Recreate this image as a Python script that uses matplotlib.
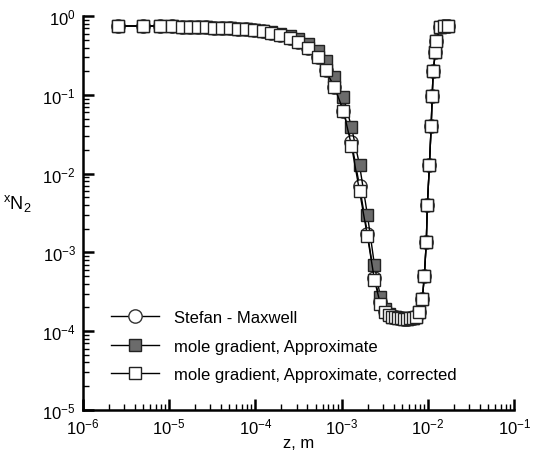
import numpy as np
import matplotlib.pyplot as plt
from matplotlib.ticker import LogLocator, NullFormatter

plt.rcParams['font.family'] = ['Liberation Sans', 'DejaVu Sans']
plt.rcParams['font.size'] = 12

# 网格坐标 z, m
z = [2.54e-6, 4.94e-6, 7.78e-6, 1.07e-5, 1.40e-5, 1.73e-5, 2.14e-5, 2.66e-5,
     3.28e-5, 4.06e-5, 5.03e-5, 6.22e-5, 7.71e-5, 9.53e-5, 1.21e-4, 1.50e-4,
     1.91e-4, 2.49e-4, 3.16e-4, 4.02e-4, 5.25e-4, 6.50e-4, 8.26e-4, 1.05e-3,
     1.30e-3, 1.61e-3, 1.99e-3, 2.40e-3, 2.81e-3, 3.21e-3, 3.57e-3, 3.87e-3,
     4.20e-3, 4.54e-3, 4.92e-3, 5.33e-3, 5.78e-3, 6.25e-3, 6.78e-3, 7.35e-3,
     7.94e-3, 8.61e-3, 9.08e-3, 9.57e-3, 9.84e-3, 1.04e-2, 1.09e-2, 1.12e-2,
     1.15e-2, 1.22e-2, 1.25e-2, 1.39e-2, 1.55e-2, 1.72e-2]

# 右侧上升段 + 底部 (三条曲线基本重合)
bottom = [1.52e-4, 1.49e-4, 1.47e-4, 1.45e-4, 1.44e-4, 1.44e-4, 1.45e-4, 1.47e-4, 1.50e-4]
rise = [1.75e-4, 2.56e-4, 5.02e-4, 1.36e-3, 4.0e-3, 1.29e-2, 4.02e-2, 9.66e-2,
        0.200, 0.349, 0.482, 0.725, 0.75, 0.76]

# Stefan - Maxwell
x_sm = [0.75, 0.75, 0.75, 0.747, 0.725, 0.725, 0.725, 0.725, 0.704, 0.704,
        0.704, 0.684, 0.684, 0.664, 0.645, 0.609, 0.574, 0.526, 0.468, 0.393,
        0.302, 0.206, 0.126, 0.0623, 0.025, 7.0e-3, 1.72e-3, 4.7e-4, 2.35e-4,
        1.78e-4, 1.62e-4] + bottom + rise
# mole gradient, Approximate
x_ap = [0.75, 0.75, 0.75, 0.747, 0.725, 0.725, 0.725, 0.725, 0.704, 0.704,
        0.704, 0.684, 0.684, 0.664, 0.645, 0.627, 0.591, 0.557, 0.511, 0.441,
        0.360, 0.268, 0.168, 0.0938, 0.039, 0.0129, 2.98e-3, 6.92e-4, 2.72e-4,
        1.91e-4, 1.65e-4] + bottom + rise
# mole gradient, Approximate, corrected
x_co = [0.75, 0.75, 0.75, 0.747, 0.725, 0.725, 0.725, 0.725, 0.704, 0.704,
        0.704, 0.684, 0.684, 0.664, 0.645, 0.609, 0.574, 0.526, 0.468, 0.393,
        0.302, 0.206, 0.126, 0.0623, 0.0227, 6.0e-3, 1.61e-3, 4.46e-4, 2.21e-4,
        1.75e-4, 1.61e-4] + bottom + rise

fig = plt.figure(figsize=(5.34, 4.52), dpi=100)
ax = fig.add_axes([0.155, 0.091, 0.808, 0.871])

ax.plot(z, x_sm, '-o', color='black', lw=1, ms=9.6, mfc='white', mec='#333333',
        mew=1, label='Stefan - Maxwell', zorder=2)
ax.plot(z, x_ap, '-s', color='black', lw=1, ms=8.6, mfc='#6b6b6b', mec='#222222',
        mew=1, label='mole gradient, Approximate', zorder=3)
ax.plot(z, x_co, '-s', color='black', lw=1, ms=8.6, mfc='white', mec='#222222',
        mew=1, label='mole gradient, Approximate, corrected', zorder=4)

ax.set_xscale('log')
ax.set_yscale('log')
ax.set_xlim(1e-6, 1e-1)
ax.set_ylim(1e-5, 1e0)

# 坐标轴样式
for s in ['top', 'right']:
    ax.spines[s].set_visible(False)
for s in ['left', 'bottom']:
    ax.spines[s].set_linewidth(1.8)
ax.xaxis.set_minor_locator(LogLocator(base=10, subs=np.arange(2, 10), numticks=20))
ax.yaxis.set_minor_locator(LogLocator(base=10, subs=np.arange(2, 10), numticks=20))
ax.xaxis.set_minor_formatter(NullFormatter())
ax.yaxis.set_minor_formatter(NullFormatter())
ax.tick_params(which='major', direction='in', length=8, width=1.8, labelsize=12,
               top=False, right=False, pad=5)
ax.tick_params(axis='x', which='major', pad=5)
ax.tick_params(which='minor', direction='in', length=4, width=1,
               top=False, right=False)

ax.set_xlabel('z, m', fontsize=12, labelpad=-1)
ax.set_ylabel(r'$\mathregular{^xN_2}$', fontsize=13, rotation=0, labelpad=18)

ax.legend(loc='lower left', bbox_to_anchor=(0.03, 0.033), frameon=False,
          numpoints=1, handlelength=2.9, handletextpad=0.9, labelspacing=0.8,
          fontsize=12)

plt.savefig('out.png', dpi=100)
